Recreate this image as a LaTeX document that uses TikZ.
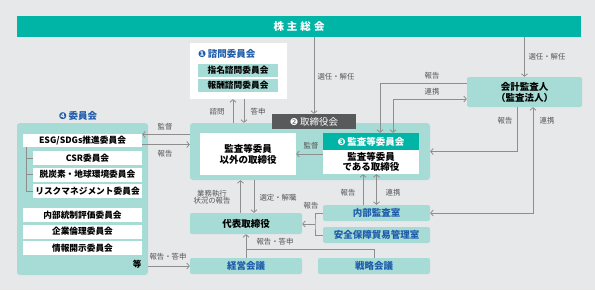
\documentclass[tikz,border=0pt]{standalone}
\usepackage{fontspec}
\setmainfont{Noto Sans CJK JP}
\newfontfamily\dingfont{DejaVu Sans}
\usetikzlibrary{arrows.meta}

\definecolor{bggray}{HTML}{E7E8EA}
\definecolor{teal1}{HTML}{00B5A6}
\definecolor{lteal}{HTML}{A6DCD5}
\definecolor{tabgray}{HTML}{58595B}
\definecolor{ttblue}{HTML}{1E5CAB}
\definecolor{linegray}{HTML}{8E8E8E}
\definecolor{lblgray}{HTML}{555555}

\newcommand{\maru}[1]{{\dingfont #1}}

\tikzset{
  box/.style={fill=lteal, rounded corners=2pt, inner sep=0pt, align=center,
    font=\fontsize{9.5}{11}\selectfont\bfseries},
  wbox/.style={fill=white, inner sep=0pt, align=center,
    font=\fontsize{8.7}{10}\selectfont\bfseries},
  lbl/.style={font=\fontsize{7.4}{8.5}\selectfont, text=lblgray, align=center},
  conn/.style={draw=linegray, line width=0.8pt},
  arr/.style={conn, -{Straight Barb[length=2.5pt,width=6pt]}},
  darr/.style={conn, {Straight Barb[length=2.5pt,width=6pt]}-{Straight Barb[length=2.5pt,width=6pt]}},
}

\begin{document}
\begin{tikzpicture}[x=1pt,y=-1pt]
  % background
  \fill[bggray] (0,0) rectangle (595,290);
  \useasboundingbox (0,0) rectangle (595,290);

  % shareholders meeting
  \node[fill=teal1, minimum width=564pt, minimum height=21pt, inner sep=0pt,
    text=white, font=\fontsize{10.5}{12}\selectfont\bfseries] (kabu) at (299,26.5)
    {株\hspace{3pt}主\hspace{3pt}総\hspace{3pt}会};

  % advisory committees
  \node[fill=white, minimum width=97pt, minimum height=56pt] (shimon) at (238.5,71) {};
  \node[anchor=west, inner sep=0pt, text=ttblue, font=\fontsize{9.5}{11}\selectfont\bfseries]
    (shimontitle) at (198,54) {\maru{❶}\,諮問委員会};
  \node[box, rounded corners=0pt, minimum width=80pt, minimum height=13pt,
    font=\fontsize{8.7}{10}\selectfont\bfseries] (shimei) at (238,70.5) {指名諮問委員会};
  \node[box, rounded corners=0pt, minimum width=80pt, minimum height=13pt,
    font=\fontsize{8.7}{10}\selectfont\bfseries] (houshu) at (238,85.5) {報酬諮問委員会};

  % board of directors
  \node[box, rounded corners=3pt, minimum width=240pt, minimum height=57pt] (board) at (310,151.5) {};
  \node[fill=tabgray, text=white, minimum width=84pt, minimum height=15pt, inner sep=0pt,
    font=\fontsize{9.5}{11}\selectfont] (tab) at (314,121.5) {\maru{❷}\,取締役会};
  \node[wbox, minimum width=96pt, minimum height=42pt,
    font=\fontsize{9.5}{11}\selectfont\bfseries] (igai) at (248,154) {監査等委員\\以外の取締役};
  \node[fill=teal1, text=white, minimum width=96pt, minimum height=17pt, inner sep=0pt,
    font=\fontsize{9.5}{11}\selectfont\bfseries] (kansahead) at (371,141.5) {\maru{❸}\,監査等委員会};
  \node[wbox, minimum width=96pt, minimum height=24pt,
    font=\fontsize{9.5}{10.5}\selectfont\bfseries] (kansabody) at (371,162) {監査等委員\\である取締役};

  % accounting auditor
  \node[box, minimum width=115pt, minimum height=30pt] (kaikei) at (524.5,92)
    {会計監査人\\（監査法人）};

  % internal audit, executives
  \node[box, text=ttblue, minimum width=107pt, minimum height=16pt] (naibu) at (376.5,213) {内部監査室};
  \node[box, text=ttblue, minimum width=107pt, minimum height=16pt] (anzen) at (376.5,235) {安全保障貿易管理室};
  \node[box, minimum width=112pt, minimum height=21pt] (daihyo) at (246,223.5) {代表取締役};
  \node[box, text=ttblue, minimum width=112pt, minimum height=16pt] (keiei) at (246,266) {経営会議};
  \node[box, text=ttblue, minimum width=112pt, minimum height=16pt] (senryaku) at (374,266) {戦略会議};

  % committees
  \node[box, rounded corners=3pt, minimum width=131pt, minimum height=152pt] (iinkai) at (82.5,199) {};
  \node[inner sep=0pt, text=ttblue, font=\fontsize{9.5}{11}\selectfont\bfseries]
    (iinkaititle) at (78,116) {\maru{❹}\,委員会};
  \node[wbox, minimum width=119pt, minimum height=13pt] (esg) at (82.5,140.5) {ESG/SDGs推進委員会};
  \node[wbox, minimum width=109pt, minimum height=14pt] (csr) at (87.5,158) {CSR委員会};
  \node[wbox, minimum width=109pt, minimum height=14pt] (datsu) at (87.5,174.5) {脱炭素・地球環境委員会};
  \node[wbox, minimum width=109pt, minimum height=14pt] (risk) at (87.5,191) {リスクマネジメント委員会};
  \node[wbox, minimum width=119pt, minimum height=14pt] (naibutousei) at (82.5,215) {内部統制評価委員会};
  \node[wbox, minimum width=119pt, minimum height=14pt] (kigyo) at (82.5,231.5) {企業倫理委員会};
  \node[wbox, minimum width=119pt, minimum height=14pt] (jouhou) at (82.5,248) {情報開示委員会};
  \node[inner sep=0pt, font=\fontsize{8.5}{10}\selectfont\bfseries] (tou) at (137,264) {等};

  % tree of sub committees
  \coordinate (trunk) at (26,147);
  \draw[conn, line width=0.6pt] (trunk) |- (risk.west);
  \foreach \n in {csr,datsu}
    \draw[conn, line width=0.6pt] (trunk |- \n.west) -- (\n.west);

  % shareholders to board and auditor
  \draw[arr] (kabu.south -| tab.north) -- (tab.north);
  \draw[arr] (kabu.south -| kaikei.north) -- (kaikei.north);
  \node[lbl] at (336,77) {選任・解任};
  \node[lbl] at (547,57) {選任・解任};

  % advisory
  \coordinate (shq) at ([xshift=-5.5pt]shimon.south);
  \coordinate (tsh) at ([xshift=5.5pt]shimon.south);
  \draw[arr] (shq |- board.north) -- (shq);
  \draw[arr] (tsh) -- (tsh |- board.north);
  \node[lbl] at (217,112) {諮問};
  \node[lbl] at (258,112) {答申};

  % auditor to audit committee
  \draw[arr] ([yshift=9pt]kaikei.west) -| ([xshift=9pt]kansahead.north);
  \draw[darr] ([yshift=-7pt]kaikei.west) -| ([xshift=22pt]kansahead.north);
  \node[lbl] at (432,76) {報告};
  \node[lbl] at (432,92) {連携};

  % auditor to board and internal audit
  \draw[arr] ([xshift=-7.5pt]kaikei.south) |- (board.east);
  \draw[darr] ([xshift=8.5pt]kaikei.south) |- (naibu.east);
  \node[lbl] at (505,121) {報告};
  \node[lbl] at (547,121) {連携};

  % supervision inside the board
  \draw[arr] (igai.east -| kansabody.west) -- (igai.east);
  \node[lbl] at (311,146) {監督};

  % internal audit to audit committee
  \coordinate (nhou) at ([xshift=-13.5pt]naibu.north);
  \draw[arr] (nhou) -- (nhou |- kansabody.south);
  \draw[darr] (naibu.north |- kansabody.south) -- (naibu.north);
  \node[lbl] at (348,193) {報告};
  \node[lbl] at (393,193) {連携};

  % internal audit to president
  \coordinate (brk) at (315,224);
  \draw[conn] (naibu.west) -| (brk) |- (anzen.west);
  \draw[arr] (brk) -- (brk -| daihyo.east);
  \node[lbl] at (311,206) {報告};

  % board and president
  \coordinate (gyoumu) at ([xshift=-5.5pt]daihyo.north);
  \coordinate (sentei) at ([xshift=8pt]daihyo.north);
  \draw[arr] (gyoumu) -- (gyoumu |- board.south);
  \draw[arr] (sentei |- board.south) -- (sentei);
  \node[lbl] at (212,197) {業務執行\\[-1.5pt]状況の報告};
  \node[lbl] at (278,198) {選定・解職};

  % meetings to president
  \draw[arr] (keiei.north) -- (keiei.north |- daihyo.south);
  \draw[conn] (senryaku.north) |- ([yshift=8pt]keiei.north);
  \node[lbl] at (275,242) {報告・答申};

  % committees and board
  \coordinate (kantoku) at ([yshift=6pt]esg.east);
  \coordinate (esghou) at ([yshift=-4pt]esg.east);
  \draw[arr] (kantoku -| board.west) -- (kantoku);
  \draw[arr] (esghou) -- (esghou -| board.west);
  \node[lbl] at (165,127) {監督};
  \node[lbl] at (165,154) {報告};
  \draw[arr] (iinkai.east |- keiei.west) -- (keiei.west);
  \node[lbl] at (168,257) {報告・答申};
\end{tikzpicture}
\end{document}
